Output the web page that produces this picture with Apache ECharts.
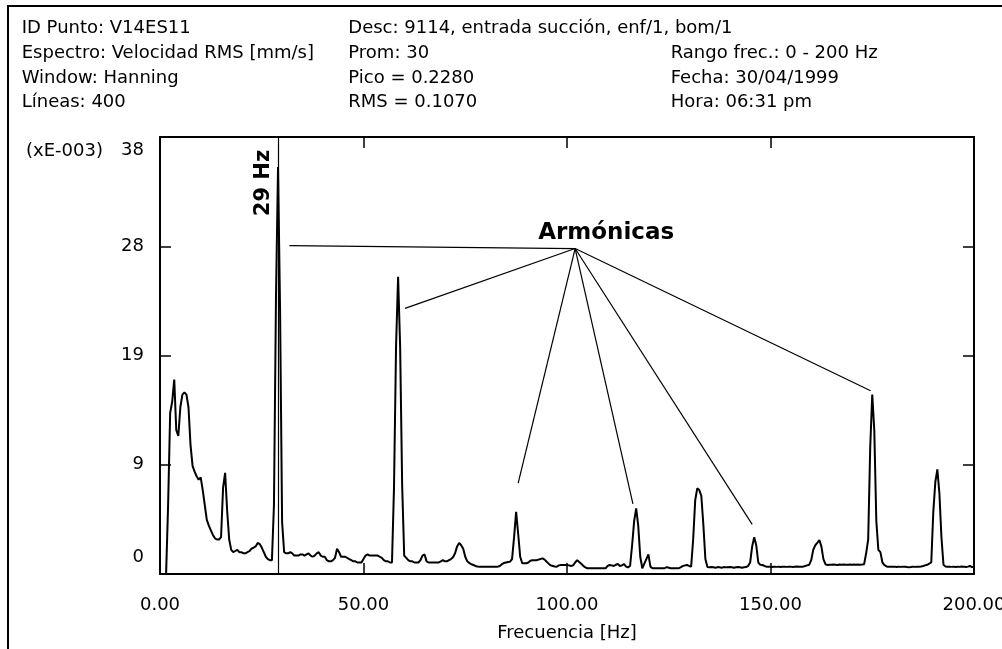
<!DOCTYPE html>
<html>
<head>
<meta charset="utf-8">
<script src="https://cdn.jsdelivr.net/npm/echarts@6/dist/echarts.min.js"></script>
<style>
html,body{margin:0;padding:0;background:#fff;}
#c{width:1002px;height:649px;}
</style>
</head>
<body>
<div id="c"></div>
<script>
// ---- Data ----
const FREQ_MAX = 200;      // Hz
const LINES = 400;         // spectral lines
// Amplitude (xE-003 mm/s), one value per 0.5 Hz bin, rows of 10 Hz
const amplitude = [
  0,0,0,0,6.1,14.0,15.0,16.9,12.5,12.0,14.5,15.6,15.8,15.6,14.5,11.2,9.4,8.9,8.5,8.2,
  8.4,7.3,6.0,4.7,4.2,3.8,3.4,3.1,3.0,3.0,3.2,7.5,8.8,5.5,3.0,2.1,1.9,2.0,2.1,1.9,
  1.9,1.8,1.8,1.9,2.0,2.2,2.3,2.4,2.7,2.6,2.3,1.9,1.5,1.3,1.2,1.2,6.0,24.1,35.4,23.0,
  4.5,1.9,1.8,1.8,1.9,1.8,1.6,1.6,1.6,1.7,1.7,1.6,1.7,1.8,1.6,1.5,1.6,1.8,1.9,1.6,
  1.5,1.5,1.2,1.1,1.1,1.2,1.4,2.2,1.9,1.5,1.5,1.5,1.4,1.3,1.2,1.1,1.1,1.0,1.0,1.0,
  1.3,1.6,1.7,1.6,1.6,1.6,1.6,1.6,1.5,1.4,1.2,1.1,1.1,1.0,1.0,7.6,19.8,25.85,19.8,7.7,
  1.6,1.4,1.2,1.1,1.1,1.0,1.0,1.0,1.2,1.6,1.7,1.1,1.0,1.0,1.0,1.0,1.0,1.0,1.1,1.2,
  1.1,1.1,1.2,1.3,1.45,1.8,2.4,2.7,2.5,2.2,1.5,1.1,0.95,0.85,0.78,0.7,0.65,0.64,0.64,0.64,
  0.64,0.64,0.64,0.64,0.64,0.64,0.64,0.7,0.85,0.95,1.0,1.05,1.07,1.3,3.2,5.4,3.5,1.5,0.93,0.93,
  0.93,1.0,1.15,1.2,1.2,1.2,1.25,1.3,1.36,1.25,1.07,0.9,0.75,0.7,0.65,0.64,0.75,0.78,0.78,0.78,
  0.78,0.75,0.7,0.75,1.0,1.2,1.05,0.9,0.7,0.58,0.5,0.5,0.5,0.5,0.5,0.5,0.5,0.5,0.5,0.5,
  0.7,0.78,0.75,0.7,0.8,0.87,0.7,0.75,0.87,0.65,0.58,0.7,2.5,4.6,5.7,4.2,1.5,0.5,0.9,1.3,
  1.7,0.64,0.5,0.5,0.5,0.5,0.5,0.5,0.5,0.6,0.55,0.5,0.5,0.5,0.5,0.5,0.6,0.7,0.75,0.78,
  0.7,0.64,3.0,6.4,7.45,7.3,6.8,4.3,1.3,0.6,0.58,0.6,0.58,0.55,0.6,0.58,0.55,0.6,0.58,0.58,
  0.6,0.58,0.55,0.58,0.6,0.58,0.55,0.58,0.6,0.7,1.0,2.4,3.2,2.5,1.0,0.8,0.78,0.7,0.64,0.64,
  0.64,0.6,0.64,0.62,0.64,0.6,0.64,0.64,0.62,0.64,0.64,0.6,0.64,0.66,0.64,0.64,0.64,0.7,0.75,0.8,
  1.2,2.1,2.5,2.7,2.96,2.4,1.3,0.85,0.78,0.8,0.8,0.82,0.8,0.78,0.82,0.8,0.82,0.8,0.8,0.82,
  0.8,0.82,0.8,0.82,0.8,0.82,0.85,1.8,3.0,11.0,15.6,12.5,4.6,2.1,1.9,1.0,0.78,0.66,0.64,0.64,
  0.64,0.64,0.6,0.64,0.62,0.64,0.64,0.6,0.58,0.6,0.64,0.62,0.64,0.64,0.66,0.7,0.75,0.8,0.9,1.0,
  5.4,8.0,9.1,7.0,3.2,0.8,0.66,0.64,0.64,0.62,0.64,0.6,0.64,0.62,0.66,0.64,0.6,0.64,0.7,0.6,
  0.64
];
const xTickValues = [0, 50, 100, 150, 200];
const xTickLabels = ['0.00', '50.00', '100.00', '150.00', '200.00'];
const yTickLabels = ['0', '9', '19', '28', '38'];
const yMax = 38;
const yUnitLabel = '(xE-003)';
const xAxisName = 'Frecuencia [Hz]';

// Annotations (data coordinates)
const cursorHz = 29;
const cursorLabel = '29 Hz';
const harmonicLabel = 'Armónicas';
const harmonicHub = [102.0, 28.3];
const harmonicTargets = [
  [31.8, 28.55], [60.2, 23.1], [88.0, 7.9], [116.2, 6.1], [145.5, 4.32], [174.6, 15.94]
];

// Header text
const headerCol1 = ['ID Punto: V14ES11', 'Espectro: Velocidad RMS [mm/s]', 'Window: Hanning', 'Líneas: 400'];
const headerCol2 = ['Desc: 9114, entrada succión, enf/1, bom/1', 'Prom: 30', 'Pico = 0.2280', 'RMS = 0.1070'];
const headerCol3 = ['', 'Rango frec.: 0 - 200 Hz', 'Fecha: 30/04/1999', 'Hora: 06:31 pm'];

// ---- Build ----
const FONT = 'DejaVu Sans';
const df = FREQ_MAX / LINES;
const seriesData = amplitude.map((v, i) => [i * df, v]);

const chart = echarts.init(document.getElementById('c'), null, {renderer: 'canvas'});

const tickStyle = {show: true, inside: true, length: 11, lineStyle: {color: '#000', width: 1.5}};
const axisLineStyle = {show: true, onZero: false, lineStyle: {color: '#000', width: 2}};

const markLines = [
  [{coord: [cursorHz, 0]}, {coord: [cursorHz, yMax]}]
].concat(harmonicTargets.map(t => [{coord: harmonicHub}, {coord: t}]));

const option = {
  animation: false,
  backgroundColor: '#fff',
  textStyle: {fontFamily: FONT},
  grid: {left: 160, right: 28, top: 137, bottom: 75, containLabel: false, outerBoundsMode: 'none'},
  xAxis: [{
    type: 'value', min: 0, max: FREQ_MAX, interval: 50, position: 'bottom',
    axisLine: axisLineStyle,
    axisTick: tickStyle,
    splitLine: {show: false},
    axisLabel: {
      show: true, margin: 22, color: '#000', fontSize: 18, fontFamily: FONT,
      alignMinLabel: 'center', alignMaxLabel: 'center', hideOverlap: false,
      formatter: v => xTickLabels[xTickValues.indexOf(v)]
    },
    name: xAxisName, nameLocation: 'middle', nameGap: 50,
    nameTextStyle: {color: '#000', fontSize: 18, fontFamily: FONT}
  }, {
    type: 'value', min: 0, max: FREQ_MAX, interval: 50, position: 'top',
    axisLine: axisLineStyle, axisTick: tickStyle,
    splitLine: {show: false}, axisLabel: {show: false}
  }],
  yAxis: [{
    type: 'value', min: 0, max: yMax, interval: yMax / 4, position: 'left',
    axisLine: axisLineStyle, axisTick: tickStyle,
    splitLine: {show: false},
    axisLabel: {
      show: true, margin: 16, color: '#000', fontSize: 18, fontFamily: FONT,
      formatter: (v, idx) => {
        const s = yTickLabels[idx];
        if (idx === 0) return '{b|' + s + '}';
        if (idx === yTickLabels.length - 1) return '{t|' + s + '}';
        return s;
      },
      rich: {
        t: {color: '#000', fontSize: 18, fontFamily: FONT, padding: [27, 0, 0, 0]},
        b: {color: '#000', fontSize: 18, fontFamily: FONT, padding: [0, 0, 33, 0]}
      }
    }
  }, {
    type: 'value', min: 0, max: yMax, interval: yMax / 4, position: 'right',
    axisLine: axisLineStyle, axisTick: tickStyle,
    splitLine: {show: false}, axisLabel: {show: false}
  }],
  series: [{
    type: 'line',
    data: seriesData,
    showSymbol: false,
    symbol: 'none',
    lineStyle: {color: '#000', width: 2},
    itemStyle: {color: '#000'},
    markLine: {
      silent: true,
      symbol: ['none', 'none'],
      label: {show: false},
      lineStyle: {color: '#000', width: 1.2, type: 'solid'},
      data: markLines
    }
  }]
};
chart.setOption(option);

// Text annotations, positioned from data coordinates
const pCursor = chart.convertToPixel({gridIndex: 0}, [cursorHz, 34]);
const pHub = chart.convertToPixel({gridIndex: 0}, harmonicHub);

const graphics = [{
  type: 'rect', silent: true,
  shape: {x: 8, y: 6, width: 1010, height: 660},
  style: {fill: 'none', stroke: '#000', lineWidth: 2}
}, {
  type: 'text', silent: true, x: 26, y: 151,
  style: {text: yUnitLabel, fill: '#000', font: '18px "' + FONT + '"', verticalAlign: 'middle', align: 'left'}
}, {
  type: 'text', silent: true, x: pCursor[0] - 14, y: pCursor[1], rotation: Math.PI / 2,
  style: {text: cursorLabel, fill: '#000', font: 'bold 21px "' + FONT + '"', verticalAlign: 'middle', align: 'center'}
}, {
  type: 'text', silent: true, x: pHub[0] + 31, y: pHub[1] - 16,
  style: {text: harmonicLabel, fill: '#000', font: 'bold 23px "' + FONT + '"', verticalAlign: 'middle', align: 'center'}
}];
const rowY = [28, 53, 78, 102.5];
const colX = [21.7, 348.3, 670.7];
[headerCol1, headerCol2, headerCol3].forEach((col, ci) => {
  col.forEach((t, ri) => {
    if (!t) return;
    graphics.push({
      type: 'text', silent: true, x: colX[ci], y: rowY[ri],
      style: {text: t, fill: '#000', font: '18px "' + FONT + '"', verticalAlign: 'middle', align: 'left'}
    });
  });
});
chart.setOption({graphic: graphics});
</script>
</body>
</html>
